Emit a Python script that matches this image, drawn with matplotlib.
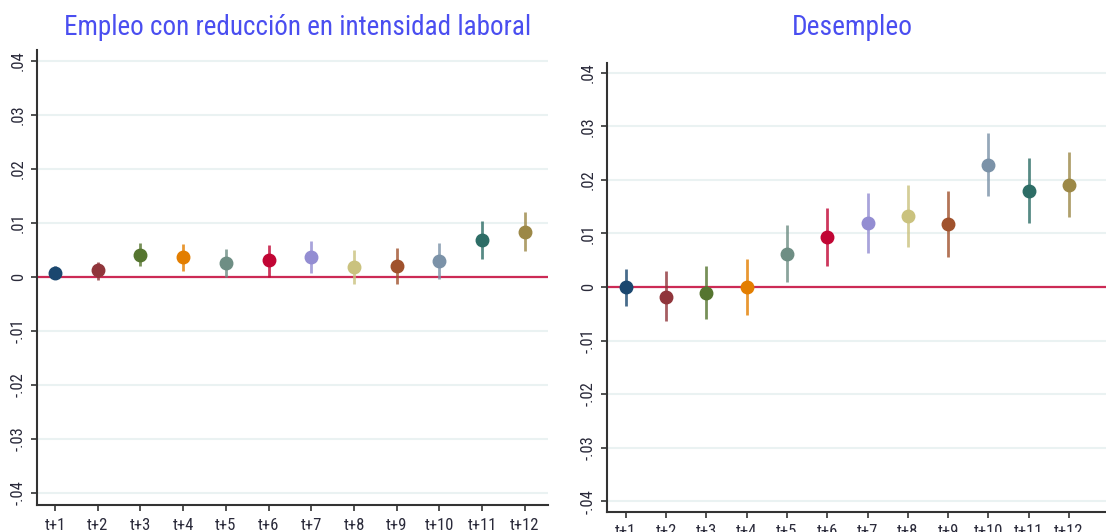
import matplotlib
matplotlib.use("Agg")
import matplotlib.pyplot as plt
from matplotlib import font_manager

labels = ["t+1", "t+2", "t+3", "t+4", "t+5", "t+6", "t+7", "t+8", "t+9", "t+10", "t+11", "t+12"]
colors = ["#1a476f", "#90353b", "#55752f", "#e37e00", "#6e8e84", "#c10534",
          "#938dd2", "#cac27e", "#a0522d", "#7b92a8", "#2d6d66", "#9c8847"]

# Left panel: Empleo con reducción en intensidad laboral
emp_est = [0.0007, 0.0012, 0.0041, 0.0036, 0.0025, 0.0031, 0.0036, 0.0018, 0.0019, 0.0029, 0.0068, 0.0083]
emp_lo = [-0.0005, -0.0006, 0.0020, 0.0011, 0.0000, 0.0000, 0.0006, -0.0013, -0.0014, -0.0005, 0.0032, 0.0047]
emp_hi = [0.0019, 0.0028, 0.0063, 0.0060, 0.0052, 0.0059, 0.0066, 0.0050, 0.0053, 0.0063, 0.0103, 0.0119]

# Right panel: Desempleo
des_est = [-0.0001, -0.0018, -0.0012, 0.0000, 0.0062, 0.0093, 0.0120, 0.0132, 0.0117, 0.0228, 0.0180, 0.0191]
des_lo = [-0.0035, -0.0063, -0.0060, -0.0052, 0.0009, 0.0039, 0.0064, 0.0075, 0.0056, 0.0169, 0.0120, 0.0131]
des_hi = [0.0033, 0.0029, 0.0040, 0.0052, 0.0115, 0.0147, 0.0175, 0.0190, 0.0180, 0.0288, 0.0240, 0.0251]

yticks = [-0.04, -0.03, -0.02, -0.01, 0.0, 0.01, 0.02, 0.03, 0.04]
ytick_labels = ["-.04", "-.03", "-.02", "-.01", "0", ".01", ".02", ".03", ".04"]

avail = {f.name for f in font_manager.fontManager.ttflist}
def pick(names):
    for n in names:
        if n in avail:
            return n
    return "DejaVu Sans"

title_font = pick(["Roboto Condensed", "Liberation Sans Narrow", "Open Sans Condensed", "Roboto", "Liberation Sans"])
tick_font = pick(["Roboto Condensed", "Liberation Sans Narrow", "Liberation Sans", "Roboto"])
plt.rcParams["font.family"] = [tick_font, "DejaVu Sans"]

W, H = 1106, 532
fig = plt.figure(figsize=(W / 100, H / 100), dpi=100)
renderer = fig.canvas.get_renderer()

def px_axes(x0, y0, x1, y1):
    return fig.add_axes([x0 / W, 1 - y1 / H, (x1 - x0) / W, (y1 - y0) / H])

ax1 = px_axes(37, 50, 548, 505)
ax2 = px_axes(607, 63, 1106, 512)

panels = [
    (ax1, emp_est, emp_lo, emp_hi, "Empleo con reducción en intensidad laboral", (0.578, 12.54), (-0.0423, 0.042), 298, 467),
    (ax2, des_est, des_lo, des_hi, "Desempleo", (0.53, 12.92), (-0.042, 0.0418), 852, 121),
]

for ax, est, lo, hi, title, xl, yl, tx, tw in panels:
    xs = list(range(1, len(labels) + 1))
    for y in yticks:
        ax.axhline(y, color="#eaf2f2", lw=1.5, zorder=0)
    ax.axhline(0, color="#cc2a55", lw=1.6, zorder=1)
    for i, x in enumerate(xs):
        ax.plot([x, x], [lo[i], hi[i]], color=colors[i], lw=2.0, alpha=0.8,
                solid_capstyle="butt", zorder=2)
        ax.plot(x, est[i], "o", color=colors[i], ms=9, mec=colors[i], zorder=3)
    ax.set_xlim(*xl)
    ax.set_ylim(*yl)
    ax.set_xticks(xs)
    ax.set_xticklabels(labels, fontsize=12, color="#2a2a3a")
    ax.set_yticks(yticks)
    ax.set_yticklabels(ytick_labels, fontsize=12, color="#2a2a3a", rotation=90, va="center")
    ax.tick_params(axis="both", direction="out", length=4, width=1.2, color="#333333")
    ax.tick_params(axis="y", pad=4)
    ax.tick_params(axis="x", pad=5)
    for s in ["top", "right"]:
        ax.spines[s].set_visible(False)
    for s in ["left", "bottom"]:
        ax.spines[s].set_color("#333333")
        ax.spines[s].set_linewidth(1.5)
    t = fig.text(tx / W, 1 - 28 / H, title, ha="center", va="center", fontsize=18,
                 color="#4a4ef0", family=[title_font, "DejaVu Sans"])
    w = t.get_window_extent(renderer).width
    t.set_fontsize(18 * tw / w)

fig.savefig("out.png", dpi=100, facecolor="white")
